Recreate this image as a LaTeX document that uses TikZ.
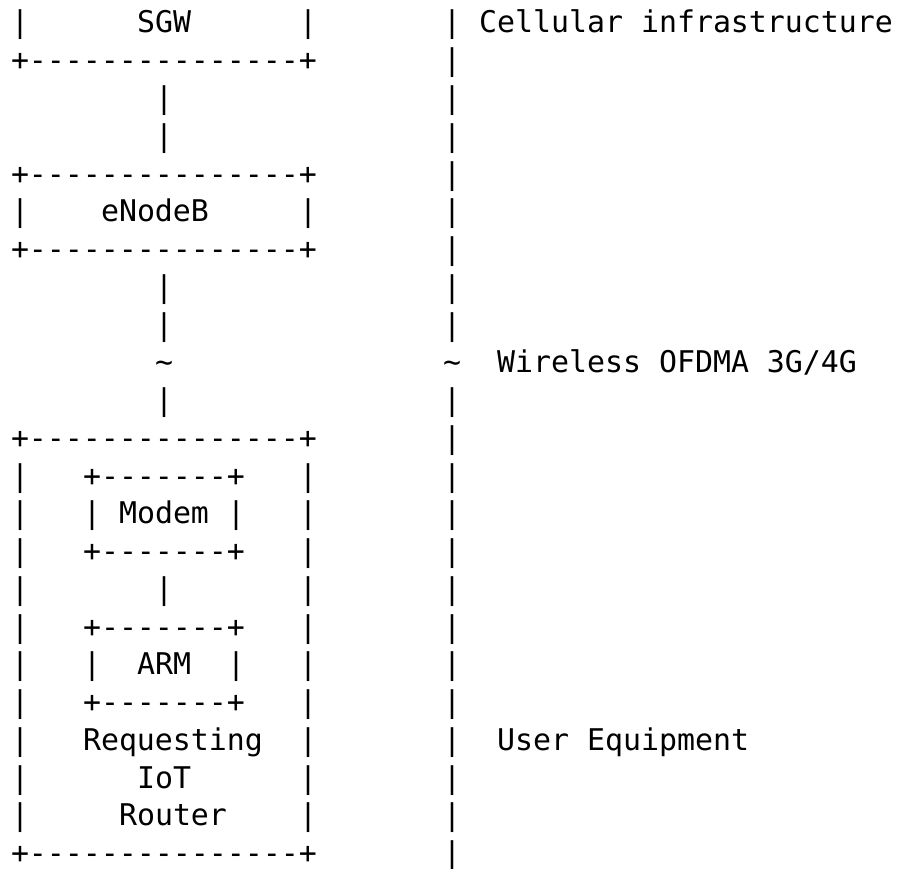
\documentclass[tikz,border=0pt]{standalone}
\usepackage{fontspec}
\setmonofont{DejaVu Sans Mono}
% one character cell: 18 units wide, 37.76 units tall
\newcommand{\asc}[4]{\node[ascii] (#1) at ({11+18*#3},{-33-37.76*#2}) {#4};}
\begin{document}
\begin{tikzpicture}[x=1pt,y=1pt,
  ascii/.style={font=\ttfamily\fontsize{29.9}{36}\selectfont,
    anchor=base west, inner sep=0pt, outer sep=0pt, text=black}]
\fill[white] (0,0) rectangle (906,-869);
\useasboundingbox (0,0) rectangle (906,-869);

% SGW box
\asc{sgwL}{0}{0}{|}
\asc{sgw}{0}{7}{SGW}
\asc{sgwR}{0}{16}{|}
\asc{sgwB}{1}{0}{+---------------+}
% link SGW -- eNodeB
\asc{l1a}{2}{8}{|}
\asc{l1b}{3}{8}{|}
% eNodeB box
\asc{enbT}{4}{0}{+---------------+}
\asc{enbL}{5}{0}{|}
\asc{enb}{5}{5}{eNodeB}
\asc{enbR}{5}{16}{|}
\asc{enbB}{6}{0}{+---------------+}
% radio link eNodeB -- UE
\asc{l2a}{7}{8}{|}
\asc{l2b}{8}{8}{|}
\asc{l2w}{9}{8}{\char`\~}
\asc{l2c}{10}{8}{|}
% user equipment box
\asc{ueT}{11}{0}{+---------------+}
\foreach \r in {12,...,21} {
  \asc{ueL\r}{\r}{0}{|}
  \asc{ueR\r}{\r}{16}{|}
}
\asc{ueB}{22}{0}{+---------------+}
% modem
\asc{modT}{12}{4}{+-------+}
\asc{modL}{13}{4}{|}
\asc{modem}{13}{6}{Modem}
\asc{modR}{13}{12}{|}
\asc{modB}{14}{4}{+-------+}
\asc{l3}{15}{8}{|}
% ARM
\asc{armT}{16}{4}{+-------+}
\asc{armL}{17}{4}{|}
\asc{arm}{17}{7}{ARM}
\asc{armR}{17}{12}{|}
\asc{armB}{18}{4}{+-------+}
% device name
\asc{req}{19}{4}{Requesting}
\asc{iot}{20}{7}{IoT}
\asc{rtr}{21}{6}{Router}

% domain divider and labels
\foreach \r in {0,...,8,10,11,...,22} {
  \asc{div\r}{\r}{24}{|}
}
\asc{divw}{9}{24}{\char`\~}
\asc{cell}{0}{26}{Cellular infrastructure}
\asc{wifi}{9}{27}{Wireless OFDMA 3G/4G}
\asc{user}{19}{27}{User Equipment}
\end{tikzpicture}
\end{document}
